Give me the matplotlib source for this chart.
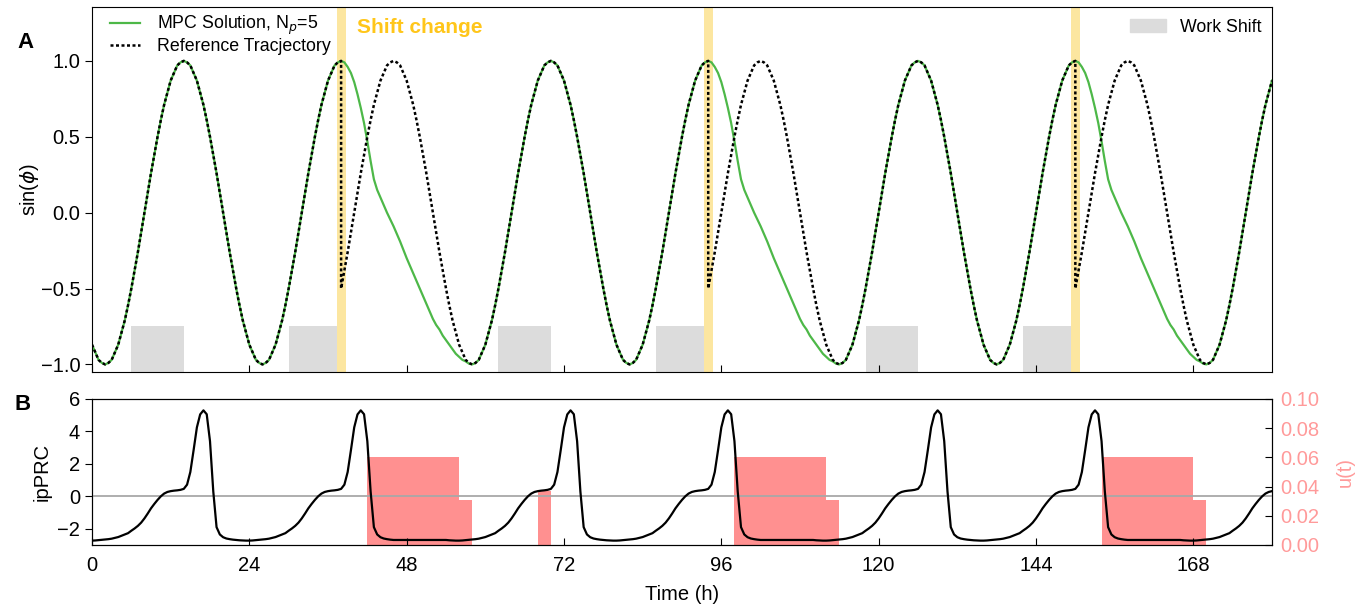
"""Recreate the MPC shift-work figure: sin(phase) tracking (A) and ipPRC / control input (B)."""

import matplotlib
matplotlib.use("Agg")
import matplotlib.pyplot as plt
import numpy as np
from matplotlib.lines import Line2D
from matplotlib.patches import Patch

plt.rcParams["font.family"] = ["Liberation Sans", "DejaVu Sans"]

# ------------------------------------------------------------------ data
T_END = 180
XTICKS = [0, 24, 48, 72, 96, 120, 144, 168]

# sin(phi) over one 24 h cycle, half-hourly, starting at the trough
SIN_CYCLE = [-1.00, -0.99, -0.97, -0.92, -0.87, -0.79, -0.71, -0.61, -0.50, -0.38, -0.26, -0.13,
             0.00, 0.13, 0.26, 0.38, 0.50, 0.61, 0.71, 0.79, 0.87, 0.92, 0.97, 0.99,
             1.00, 0.99, 0.97, 0.92, 0.87, 0.79, 0.71, 0.61, 0.50, 0.38, 0.26, 0.13,
             0.00, -0.13, -0.26, -0.38, -0.50, -0.61, -0.71, -0.79, -0.87, -0.92, -0.97, -0.99]
START_PHASE_H = 22          # cycle hour at t = 0
SHIFT_CHANGES = [38, 94, 150]
SHIFT_DELAY_H = 8

# MPC solution after each shift change, half-hourly from the change
GREEN_TRANSITION = [1.00, 0.99, 0.96, 0.92, 0.86, 0.78, 0.69, 0.59, 0.47, 0.34, 0.22,
                    0.15, 0.10, 0.05, 0.00, -0.045, -0.09, -0.14, -0.19, -0.245, -0.30,
                    -0.35, -0.40, -0.45, -0.50, -0.55, -0.60, -0.65, -0.70, -0.74, -0.77,
                    -0.81, -0.84, -0.87, -0.90, -0.93, -0.95, -0.97, -0.98, -0.995, -1.00]

WORK_SHIFT_STARTS = [6, 30, 62, 86, 118, 142]
WORK_SHIFT_LEN = 8
WORK_SHIFT_TOP = -0.75

# ipPRC over one cycle, half-hourly, starting at the sin trough
PRC_CYCLE = [-2.66, -2.64, -2.61, -2.56, -2.51, -2.43, -2.35, -2.27, -2.12, -1.98, -1.82, -1.62,
             -1.36, -1.06, -0.74, -0.47, -0.22, 0.00, 0.17, 0.27, 0.32, 0.35, 0.37, 0.40,
             0.46, 0.72, 1.50, 2.85, 4.25, 5.05, 5.30, 5.06, 3.40, 0.30, -1.90, -2.35,
             -2.52, -2.60, -2.64, -2.67, -2.69, -2.71, -2.72, -2.73, -2.73, -2.72, -2.70, -2.68]
PRC_PAUSE_AFTER_H = 8       # ipPRC stays in its trough this long after a change

# control input u(t)
U_START = [42, 56, 68, 98, 112, 154, 168]
U_END = [56, 58, 70, 112, 114, 168, 170]
U_VALUE = [0.060, 0.031, 0.037, 0.060, 0.031, 0.060, 0.031]

GREEN = "#4DB848"
GOLD = "#FFC61A"
BAND = "#FCE6A0"
GREY = "#DCDCDC"
SALMON = "#FF9A9A"
BAR = "#FF9090"
FS = 14.5
LEG_FS = 12.8

YLIM_A = (-1.05, 1.355)
STEP = 2                    # samples per hour


# ------------------------------------------------------------------ series
def _cycle_values(t, k):
    cyc = np.asarray(SIN_CYCLE)
    idx = np.round((t + START_PHASE_H - SHIFT_DELAY_H * k) * STEP).astype(int) % len(cyc)
    return cyc[idx]


def reference_series():
    bounds = [0] + SHIFT_CHANGES + [T_END]
    ts, ys = [], []
    for k in range(len(bounds) - 1):
        t = np.arange(bounds[k] * STEP, bounds[k + 1] * STEP + 1) / STEP
        ts.append(t)
        ys.append(_cycle_values(t, k))
    return np.concatenate(ts), np.concatenate(ys)


def mpc_series():
    n_tr = len(GREEN_TRANSITION)
    span = (n_tr - 1) / STEP
    starts = [0] + [s + span for s in SHIFT_CHANGES]
    ends = SHIFT_CHANGES + [T_END]
    ts, ys = [], []
    for k, (a, b) in enumerate(zip(starts, ends)):
        t = np.arange(a * STEP, b * STEP + 1) / STEP
        ts.append(t)
        ys.append(_cycle_values(t, k))
        if k < len(SHIFT_CHANGES):
            ts.append(SHIFT_CHANGES[k] + np.arange(n_tr) / STEP)
            ys.append(np.asarray(GREEN_TRANSITION))
    return np.concatenate(ts), np.concatenate(ys)


def prc_series():
    cyc = np.asarray(PRC_CYCLE)
    pauses = [(s + PRC_PAUSE_AFTER_H, s + PRC_PAUSE_AFTER_H + SHIFT_DELAY_H) for s in SHIFT_CHANGES]
    t = np.arange(0, T_END * STEP + 1) / STEP
    p = (START_PHASE_H - 24) * STEP   # half-hour index at t = 0
    idx = []
    for ti in t:
        idx.append(p % len(cyc))
        if not any(a <= ti < b for a, b in pauses):
            p += 1
    return t, cyc[idx]


# ------------------------------------------------------------------ figure
fig = plt.figure(figsize=(13.66, 6.06), dpi=100)
W, H = 1366, 606
ax_a = fig.add_axes([92 / W, 1 - 372 / H, (1272 - 92) / W, (372 - 7) / H])
ax_b = fig.add_axes([92 / W, 1 - 545 / H, (1272 - 92) / W, (545 - 399) / H])

# panel A
for s in SHIFT_CHANGES:
    ax_a.axvspan(s - 0.7, s + 0.7, color=BAND, lw=0, zorder=1)
ax_a.bar(WORK_SHIFT_STARTS, WORK_SHIFT_TOP - YLIM_A[0], width=WORK_SHIFT_LEN,
         bottom=YLIM_A[0], align="edge", color=GREY, lw=0, zorder=0.5)
tg, yg = mpc_series()
tr, yr = reference_series()
ax_a.plot(tg, yg, color=GREEN, lw=1.6, zorder=2)
ax_a.plot(tr, yr, color="black", lw=1.8, ls=(0, (1.2, 1.0)), zorder=3)

ax_a.set_xlim(0, T_END)
ax_a.set_ylim(*YLIM_A)
ax_a.set_yticks([-1.0, -0.5, 0.0, 0.5, 1.0])
ax_a.set_xticks(XTICKS)
ax_a.tick_params(axis="x", direction="in", labelbottom=False, length=5)
ax_a.tick_params(axis="y", direction="out", labelsize=FS, length=5)
ax_a.set_ylabel(r"sin($\phi$)", fontsize=FS)
ax_a.yaxis.set_label_coords(-0.043, 0.5)

leg1 = ax_a.legend(
    [Line2D([], [], color=GREEN, lw=1.6), Line2D([], [], color="black", lw=1.8, ls=(0, (1.2, 1.0)))],
    [r"MPC Solution, N$_p$=5", "Reference Tracjectory"],
    loc="upper left", bbox_to_anchor=(0.0093, 1.0), frameon=False, fontsize=LEG_FS,
    borderaxespad=0, handlelength=1.7, labelspacing=0.05, handletextpad=0.95)
ax_a.add_artist(leg1)
ax_a.legend([Patch(color=GREY)], ["Work Shift"], loc="upper right", bbox_to_anchor=(0.997, 0.987),
            frameon=False, fontsize=LEG_FS, borderaxespad=0, handlelength=2.0, handletextpad=0.8)
ax_a.text(40.4, 1.184, "Shift change", color=GOLD, fontsize=15, fontweight="bold",
          ha="left", va="baseline")

# panel B
ax_u = ax_b.twinx()
ax_b.set_zorder(ax_u.get_zorder() + 1)
ax_b.patch.set_visible(False)

ax_u.bar(U_START, U_VALUE, width=np.subtract(U_END, U_START), align="edge", color=BAR, lw=0)
ax_u.set_ylim(0, 0.1)
ax_u.set_yticks([0.0, 0.02, 0.04, 0.06, 0.08, 0.10])
ax_u.set_yticklabels([f"{v:.2f}" for v in [0.0, 0.02, 0.04, 0.06, 0.08, 0.10]])
ax_u.tick_params(axis="y", direction="in", labelsize=FS, labelcolor=SALMON, length=5, pad=6)
ax_u.set_ylabel("u(t)", color=SALMON, fontsize=FS, labelpad=12)

tp, yp = prc_series()
ax_b.axhline(0, color="#A8A8A8", lw=1.3, zorder=1)
ax_b.plot(tp, yp, color="black", lw=1.6, zorder=2)
ax_b.set_xlim(0, T_END)
ax_b.set_ylim(-3, 6)
ax_b.set_yticks([-2, 0, 2, 4, 6])
ax_b.set_yticklabels(["\u22122", "0", "2", "4", "6"])
ax_b.set_xticks(XTICKS)
ax_b.tick_params(axis="x", direction="in", labelsize=FS, length=5, pad=8)
ax_b.tick_params(axis="y", direction="out", labelsize=FS, length=5)
ax_b.set_ylabel("ipPRC", fontsize=FS)
ax_b.set_xlabel("Time (h)", fontsize=FS, labelpad=7)

fig.text(25 / W, 1 - 42 / H, "A", fontsize=16, fontweight="bold", ha="center", va="center")
fig.text(23 / W, 1 - 405 / H, "B", fontsize=16, fontweight="bold", ha="center", va="center")

fig.savefig("out.png", dpi=100)
